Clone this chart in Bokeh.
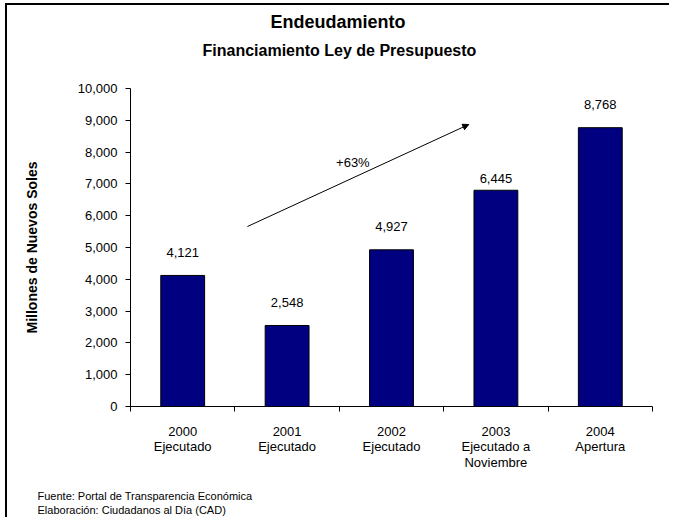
from bokeh.plotting import figure
from bokeh.models import (Range1d, FixedTicker, NumeralTickFormatter, Arrow, Title,
                          NormalHead, ColumnDataSource, LabelSet, Label)
from bokeh.core.properties import value
from bokeh.embed import file_html
from bokeh.resources import INLINE

# ---- data ----
categories = ["2000\nEjecutado", "2001\nEjecutado", "2002\nEjecutado",
              "2003\nEjecutado a\nNoviembre", "2004\nApertura"]
bar_values = [4121, 2548, 4927, 6800, 8768]
label_values = [4121, 2548, 4927, 6445, 8768]
label_texts = ["4,121", "2,548", "4,927", "6,445", "8,768"]
y_ticks = [0, 1000, 2000, 3000, 4000, 5000, 6000, 7000, 8000, 9000, 10000]
growth_text = "+63%"
title_text = "Endeudamiento"
subtitle_text = "Financiamiento Ley de Presupuesto"
footer_lines = ["Fuente: Portal de Transparencia Económica",
                "Elaboración: Ciudadanos al Día (CAD)"]

# ---- annotation anchors (in the chart's data space) ----
arrow_start = (1.12, 5660)
arrow_end = (3.24, 8868)
growth_pos = (2.13, 7670)

FONT = "Liberation Sans"
n = len(categories)
xs = [i + 0.5 for i in range(n)]

src = ColumnDataSource(dict(x=xs, top=bar_values, ly=label_values, lt=label_texts))

p = figure(width=664, height=514, x_range=Range1d(0, n), y_range=Range1d(0, 10000),
           output_backend="svg", toolbar_location=None,
           min_border_left=123, min_border_right=19, min_border_top=83, min_border_bottom=113)
p.margin = (3, 0, 0, 5)
p.styles = {"border-top": "2px solid black", "border-left": "2px solid black"}
p.outline_line_color = None
p.xgrid.visible = False
p.ygrid.visible = False
p.background_fill_color = "white"
p.border_fill_color = "white"

p.vbar(x="x", top="top", width=0.42, fill_color="#000080", line_color="black",
       line_width=1, source=src)

p.add_layout(LabelSet(x="x", y="ly", text="lt", source=src, y_offset=23,
                      text_align="center", text_baseline="middle",
                      text_font=value(FONT), text_font_size="13px", text_color="black"))

p.add_layout(Arrow(x_start=arrow_start[0], y_start=arrow_start[1],
                   x_end=arrow_end[0], y_end=arrow_end[1], line_width=1, line_color="black",
                   end=NormalHead(size=6, fill_color="black", line_color="black")))
p.add_layout(Label(x=growth_pos[0], y=growth_pos[1], text=growth_text, text_align="center",
                   text_baseline="middle", text_font=FONT, text_font_size="13px",
                   text_color="black"))

# x axis
xa = p.xaxis[0]
xa.ticker = FixedTicker(ticks=xs, minor_ticks=list(range(n + 1)))
xa.major_label_overrides = {x: c for x, c in zip(xs, categories)}
xa.major_tick_line_color = None
xa.minor_tick_in = 0
xa.minor_tick_out = 5
xa.minor_tick_line_color = "black"
xa.axis_line_color = "black"
xa.major_label_standoff = 11
xa.major_label_text_font = FONT
xa.major_label_text_font_size = "13px"
xa.major_label_text_color = "black"
xa.major_label_text_line_height = 1.05

# y axis
ya = p.yaxis[0]
ya.ticker = FixedTicker(ticks=y_ticks)
ya.formatter = NumeralTickFormatter(format="0,0")
ya.major_tick_in = 0
ya.major_tick_out = 5
ya.minor_tick_line_color = None
ya.axis_line_color = "black"
ya.major_tick_line_color = "black"
ya.major_label_standoff = 8
ya.major_label_text_font = FONT
ya.major_label_text_font_size = "13px"
ya.major_label_text_color = "black"
ya.axis_label = "Millones de Nuevos Soles"
ya.axis_label_text_font = FONT
ya.axis_label_text_font_size = "14px"
ya.axis_label_text_font_style = "bold"
ya.axis_label_text_color = "black"
ya.axis_label_standoff = 35

# titles (panels stack outward from the frame); the trailing blank line of the
# subtitle keeps it clear of the plot area
p.add_layout(Title(text=subtitle_text + "\n", align="left", offset=72,
                   vertical_align="bottom", text_line_height=1.75,
                   text_font=FONT, text_font_size="16px", text_font_style="bold",
                   text_color="black", standoff=0), "above")
p.add_layout(Title(text=title_text, align="left", offset=140, vertical_align="top",
                   text_font=FONT, text_font_size="18px", text_font_style="bold",
                   text_color="black", standoff=11), "above")

# footer (leading blank line leaves room below the category labels)
p.add_layout(Title(text="\n" + "\n".join(footer_lines), align="left", offset=-93,
                   vertical_align="bottom", text_font=FONT, text_font_size="11px",
                   text_line_height=1.22, text_font_style="normal", text_color="black",
                   standoff=0), "below")

open("out.html", "w").write(file_html(p, INLINE))
